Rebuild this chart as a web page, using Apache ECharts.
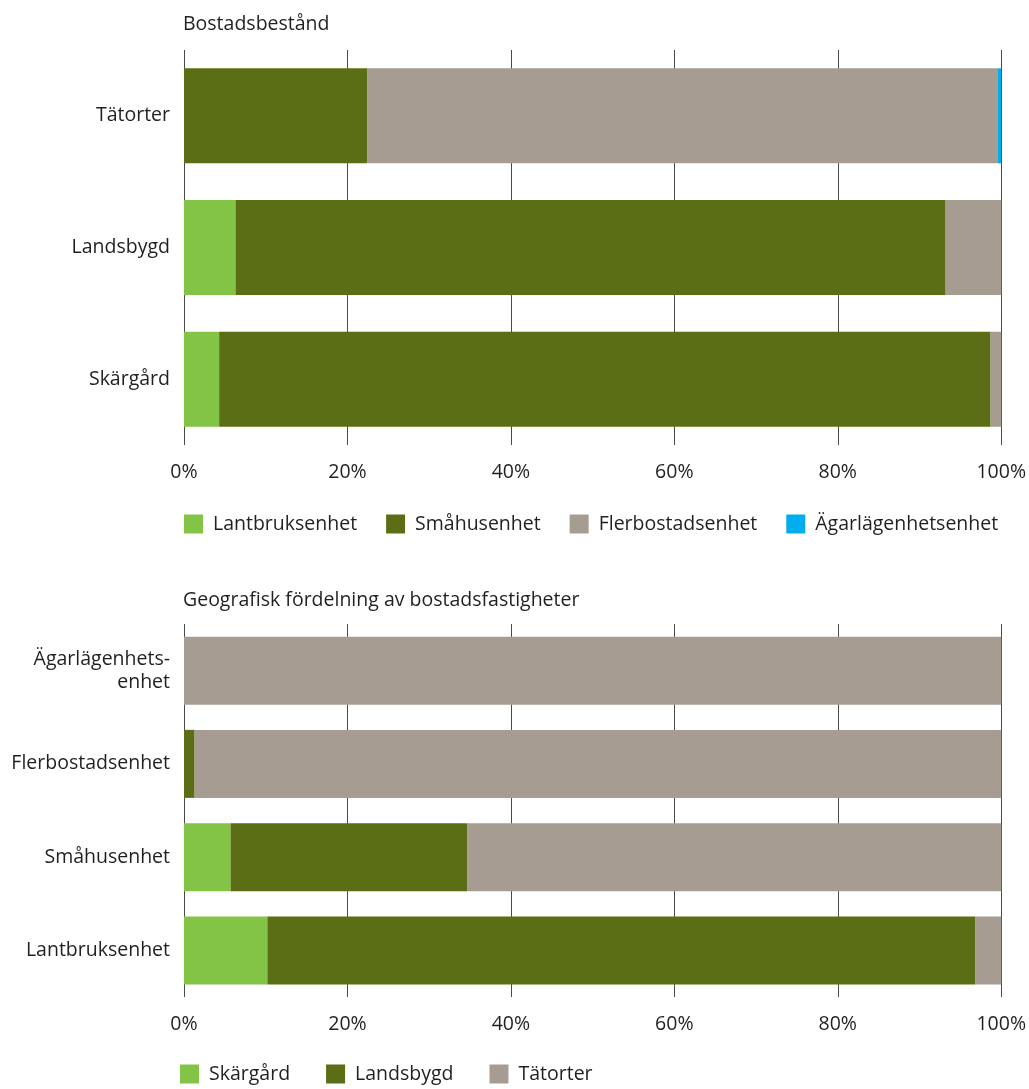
<!DOCTYPE html>
<html>
<head>
<meta charset="utf-8">
<script src="https://cdn.jsdelivr.net/npm/echarts@6/dist/echarts.min.js"></script>
<style>html,body{margin:0;padding:0;background:#fff}#c{width:1029px;height:1089px}</style>
</head>
<body>
<div id="c"></div>
<script>
// ---- Data: top chart (Bostadsbestånd), percent ----
var topCategories = ["Tätorter", "Landsbygd", "Skärgård"];
var lantbruksenhet = [0, 6.3, 4.3];
var smahusenhet = [22.4, 86.9, 94.4];
var flerbostadsenhet = [77.2, 6.8, 1.3];
var agarlagenhetsenhet = [0.4, 0, 0];

// ---- Data: bottom chart (Geografisk fördelning), percent ----
var bottomCategories = ["Ägarlägenhets-\nenhet", "Flerbostadsenhet", "Småhusenhet", "Lantbruksenhet"];
var skargard = [0, 0, 5.7, 10.2];
var landsbygd = [0, 1.3, 29.0, 86.6];
var tatorter = [100, 98.7, 65.3, 3.2];

var xTicks = [0, 20, 40, 60, 80, 100];

var FONT = "Open Sans";
var FS = 19.5;
var TXT = "#231f20";
var C_LIGHT = "#83c447", C_OLIVE = "#5c6e15", C_GRAY = "#a69c92", C_BLUE = "#00aeef";

function xAxisCfg(gi) {
  return {
    type: "value", gridIndex: gi, min: xTicks[0], max: xTicks[xTicks.length - 1], interval: 20,
    axisLine: {show: false}, axisTick: {show: false},
    axisLabel: {formatter: "{value}%", color: TXT, fontFamily: FONT, fontSize: FS, margin: 17},
    splitLine: {show: true, lineStyle: {color: "#4a4a4a", width: 1}}
  };
}
function yAxisCfg(gi, cats) {
  return {
    type: "category", gridIndex: gi, data: cats, inverse: true,
    axisLine: {show: false}, axisTick: {show: false},
    axisLabel: {color: TXT, fontFamily: FONT, fontSize: FS, margin: 14, align: "right",
                lineHeight: 23, padding: [4, 0, 0, 0]}
  };
}
function bar(name, data, color, gi, w) {
  return {
    name: name, type: "bar", stack: "s" + gi, xAxisIndex: gi, yAxisIndex: gi,
    data: data, barWidth: w, itemStyle: {color: color}, emphasis: {disabled: true}
  };
}

var chart = echarts.init(document.getElementById("c"), null, {renderer: "canvas"});
chart.setOption({
  animation: false,
  textStyle: {fontFamily: FONT},
  title: [
    {text: "Bostadsbestånd", left: 178, top: 9,
     textStyle: {color: TXT, fontFamily: FONT, fontSize: FS, fontWeight: "normal"}},
    {text: "Geografisk fördelning av bostadsfastigheter", left: 178, top: 585,
     textStyle: {color: TXT, fontFamily: FONT, fontSize: FS, fontWeight: "normal"}}
  ],
  legend: [
    {left: 184, top: 514, padding: 0, itemWidth: 19, itemHeight: 19, itemGap: 29, icon: "rect",
     selectedMode: false,
     data: ["Lantbruksenhet", "Småhusenhet", "Flerbostadsenhet", "Ägarlägenhetsenhet"],
     textStyle: {color: TXT, fontFamily: FONT, fontSize: FS, padding: [6, 0, 0, 5]}},
    {left: 180, top: 1064, padding: 0, itemWidth: 19, itemHeight: 19, itemGap: 36, icon: "rect",
     selectedMode: false,
     data: ["Skärgård", "Landsbygd", "Tätorter"],
     textStyle: {color: TXT, fontFamily: FONT, fontSize: FS, padding: [6, 0, 0, 5]}}
  ],
  grid: [
    {left: 184, width: 818, top: 50, height: 395},
    {left: 184, width: 818, top: 624, height: 373}
  ],
  xAxis: [xAxisCfg(0), xAxisCfg(1)],
  yAxis: [yAxisCfg(0, topCategories), yAxisCfg(1, bottomCategories)],
  series: [
    bar("Lantbruksenhet", lantbruksenhet, C_LIGHT, 0, 95),
    bar("Småhusenhet", smahusenhet, C_OLIVE, 0, 95),
    bar("Flerbostadsenhet", flerbostadsenhet, C_GRAY, 0, 95),
    bar("Ägarlägenhetsenhet", agarlagenhetsenhet, C_BLUE, 0, 95),
    bar("Skärgård", skargard, C_LIGHT, 1, 68),
    bar("Landsbygd", landsbygd, C_OLIVE, 1, 68),
    bar("Tätorter", tatorter, C_GRAY, 1, 68)
  ]
});
</script>
</body>
</html>
